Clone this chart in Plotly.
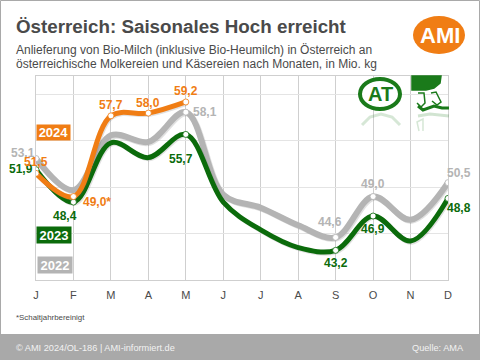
import plotly.graph_objects as go

months = ["J","F","M","A","M","J","J","A","S","O","N","D"]
v2022 = [53.1,49.7,55.6,54.9,58.1,49.2,47.8,45.9,44.6,49.0,46.5,50.5]
v2023 = [51.9,48.4,54.8,53.2,55.7,48.4,45.4,43.5,43.2,46.9,44.2,48.8]
v2024 = [51.5,49.0,57.7,58.0,59.2]
marked_2022 = [0,4,8,9,11]
marked_2023 = [0,1,4,8,9,11]
marked_2024 = [0,1,2,3,4]

ORANGE="#f07d14"; GREEN="#0b6b0b"; GRAY="#b4b4b4"; TXT="#4a4a4a"; LOGO="#1a7a1a"
FONT="Liberation Sans, Arial, sans-serif"
W,H=480,360; L,R,T,B=36,32,76,80
px=lambda x:(x-L)/(W-L-R)
py=lambda y:1-(y-T)/(H-T-B)

fig=go.Figure()
def series(vals,color,width,marked):
    xs=list(range(len(vals)))
    fig.add_trace(go.Scatter(x=[x+0.03 for x in xs],y=[v-0.12 for v in vals],mode="lines",
        line=dict(color="rgba(90,90,90,0.18)",width=width,shape="spline",smoothing=1),hoverinfo="skip",showlegend=False))
    fig.add_trace(go.Scatter(x=xs,y=vals,mode="lines",line=dict(color=color,width=width,shape="spline",smoothing=1),
        hoverinfo="skip",showlegend=False))
    fig.add_trace(go.Scatter(x=marked,y=[vals[i] for i in marked],mode="markers",
        marker=dict(color="white",size=6,line=dict(color=color,width=0.8)),hoverinfo="skip",showlegend=False))
series(v2022,GRAY,6,marked_2022)
series(v2023,GREEN,5,marked_2023)
series(v2024,ORANGE,5,marked_2024)

def lab(x,y,text,color,dx,up):
    fig.add_annotation(x=x,y=y,xref="x",yref="y",text=f"<b>{text}</b>",showarrow=False,xshift=dx,yshift=up,
        font=dict(family=FONT,size=12,color=color),bgcolor="rgba(0,0,0,0)")
for i,dx,up in [(0,-13.5,6),(4,19,0),(8,-6,15),(9,0,13),(11,11,10)]:
    lab(i,v2022[i],f"{v2022[i]:.1f}".replace(".",","),GRAY,dx,up)
for i,dx,up in [(0,-15,1),(1,-8,-14),(4,-5,-25),(8,0,-13),(9,0,-13),(11,11,-10)]:
    lab(i,v2023[i],f"{v2023[i]:.1f}".replace(".",","),GREEN,dx,up)
for i,dx,up,s in [(0,0,11,""),(1,24,-5,"*"),(2,0,11,""),(3,0,10,""),(4,0,11,"")]:
    lab(i,v2024[i],f"{v2024[i]:.1f}".replace(".",",")+s,ORANGE,dx,up)

def txt(x,y,text,size,color,bold=False,anchor="left",bg=None,w=None,h=None):
    kw={}
    if w: kw.update(width=w,height=h,align="center",valign="middle")
    fig.add_annotation(xref="paper",yref="paper",x=px(x),y=py(y),text=f"<b>{text}</b>" if bold else text,showarrow=False,
        xanchor=anchor,yanchor="middle",font=dict(family=FONT,size=size,color=color),bgcolor=bg,borderpad=0,**kw)
txt(15,27,"Österreich: Saisonales Hoch erreicht",18.8,TXT,True)
txt(15,50,"Anlieferung von Bio-Milch (inklusive Bio-Heumilch) in Österreich an",12,TXT)
txt(15,64,"österreichische Molkereien und Käsereien nach Monaten, in Mio. kg",12,TXT)
txt(36,132.5,"2024",13,"white",True,bg=ORANGE,w=33,h=15)
txt(36,235,"2023",13,"white",True,bg=GREEN,w=34,h=16)
txt(37,265,"2022",13,"white",True,bg=GRAY,w=34,h=16)
txt(15,317,"*Schaltjahrbereinigt",7.9,TXT)
txt(15,347.5,"© AMI 2024/OL-186 | AMI-informiert.de",9.2,"#f2f2f2")
txt(465,347.5,"Quelle: AMA",9.2,"#f2f2f2",anchor="right")
txt(439.5,35,"AMI",22,"white",True,anchor="center")
txt(380,94,"AT",20,LOGO,True,anchor="center")

def rect(x0,y0,x1,y1,fill,line=None,kind="rect",lw=1,layer="above"):
    fig.add_shape(type=kind,xref="paper",yref="paper",x0=px(x0),x1=px(x1),y0=py(y0),y1=py(y1),
        fillcolor=fill,line=dict(color=line or fill,width=lw if line else 0),layer=layer)
def path(points,fill=None,line=None,lw=1.5):
    d="M "+" L ".join(f"{px(x):.4f} {py(y):.4f}" for x,y in points)
    fig.add_shape(type="path",xref="paper",yref="paper",path=d+(" Z" if fill else ""),
        fillcolor=fill or "rgba(0,0,0,0)",line=dict(color=line or fill,width=lw),layer="above")
rect(0,334,480,360,"#a9a9a9",layer="below")
rect(0.5,0.5,479.5,359.5,"rgba(0,0,0,0)","#a9a9a9",layer="above")
rect(413,16,465,54,ORANGE,kind="circle",layer="below")
rect(360,79,400,109,"white",LOGO,kind="circle",lw=4,layer="above")
path([(362,125),(370,117),(381,114),(392,117),(400,125)],None,"rgba(26,122,26,0.18)",3)
path([(412,76),(441,76),(440,83),(434,88),(426,90),(412,90)],LOGO)
path([(418,93),(424,93),(425,103),(421,107),(417,103)],None,LOGO,1.5)
path([(431,93),(436,92),(441,102),(437,105),(432,101)],None,LOGO,1.5)
path([(418,106),(423,110),(434,106),(442,108),(449,108)],None,LOGO,3)
path([(419,131),(417,122),(423,119),(423,131)],None,"rgba(26,122,26,0.18)",1.5)
path([(418,116),(430,114),(449,116)],None,"rgba(26,122,26,0.2)",3)

fig.update_layout(width=W,height=H,autosize=False,margin=dict(l=L,r=R,t=T,b=B,pad=0),paper_bgcolor="white",plot_bgcolor="rgba(255,255,255,0)",
    showlegend=False,
    xaxis=dict(range=[0,11],tickvals=list(range(12)),ticktext=months,showgrid=True,gridcolor="#cfcfcf",gridwidth=1,zeroline=False,
        ticks="outside",ticklen=5,tickcolor="rgba(0,0,0,0)",tickfont=dict(family=FONT,size=11,color=TXT),
        showline=True,linecolor="#cfcfcf",linewidth=1,mirror=True),
    yaxis=dict(range=[40,62],tickvals=[40,45,50,55,60],showticklabels=False,showgrid=True,gridcolor="#e4e4e4",gridwidth=1,zeroline=False,
        ticks="",showline=True,linecolor="#cfcfcf",linewidth=1,mirror=True))
fig.write_html("out.html",config=dict(displayModeBar=False),post_script="document.body.style.margin='0';document.documentElement.style.overflow='hidden';")
